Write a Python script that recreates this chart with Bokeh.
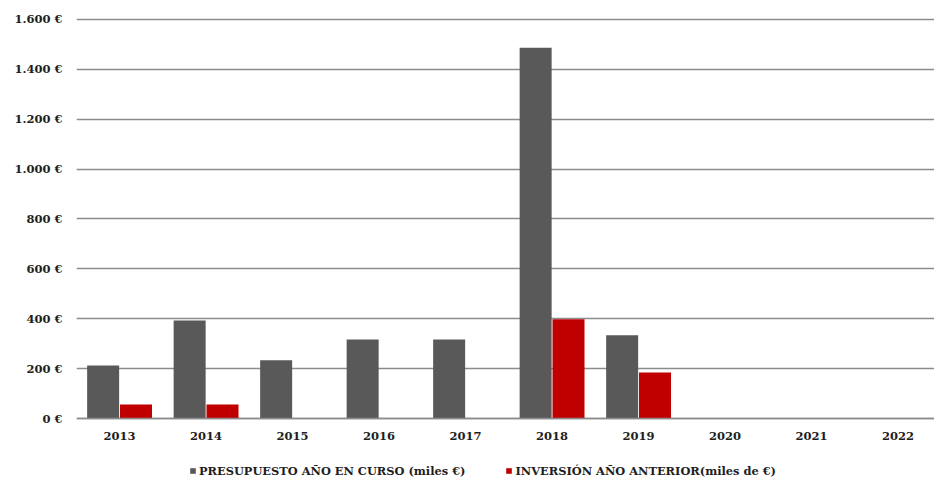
from bokeh.plotting import figure
from bokeh.models import ColumnDataSource, Legend, LegendItem, FixedTicker, Range1d, LinearAxis
from bokeh.transform import dodge
from bokeh.embed import file_html
from bokeh.resources import INLINE

nan = float("nan")

years = ["2013", "2014", "2015", "2016", "2017", "2018", "2019", "2020", "2021", "2022"]
presupuesto = [213, 393, 234, 317, 317, 1487, 334, nan, nan, nan]
inversion = [56, 56, nan, nan, nan, 398, 184, nan, nan, nan]
y_ticks = [0, 200, 400, 600, 800, 1000, 1200, 1400, 1600]
y_tick_labels = ["0 €", "200 €", "400 €", "600 €", "800 €", "1.000 €", "1.200 €", "1.400 €", "1.600 €"]
series_names = ["PRESUPUESTO AÑO EN CURSO (miles €)", "INVERSIÓN AÑO ANTERIOR(miles de €)"]

GRAY = "#595959"
RED = "#C00000"
GRID = "#8c8c8c"
TEXT = "#1e1e1e"
FONT = "DejaVu Serif"

idx = list(range(len(years)))
src = ColumnDataSource(dict(x=idx, pres=presupuesto, inv=inversion))

p = figure(width=934, height=484, output_backend="svg", toolbar_location=None,
           x_range=Range1d(-0.498, 9.421), y_range=Range1d(-264.6, 1676),
           x_axis_location=None,
           min_border_left=76, min_border_top=0, min_border_right=0, min_border_bottom=0)

r1 = p.vbar(x=dodge("x", -0.19, range=p.x_range), top="pres", width=0.37, source=src,
            fill_color=GRAY, line_color=None)
r2 = p.vbar(x=dodge("x", 0.19, range=p.x_range), top="inv", width=0.37, source=src,
            fill_color=RED, line_color=None)

p.outline_line_color = None
p.background_fill_color = "white"
p.border_fill_color = "white"

# grid
p.xgrid.grid_line_color = None
p.ygrid.ticker = FixedTicker(ticks=y_ticks)
p.ygrid.grid_line_color = GRID
p.ygrid.grid_line_width = 1.5

# y axis
p.yaxis.ticker = FixedTicker(ticks=y_ticks)
p.yaxis.major_label_overrides = {t: l for t, l in zip(y_ticks, y_tick_labels)}
p.yaxis.axis_line_color = None
p.yaxis.major_tick_line_color = None
p.yaxis.minor_tick_line_color = None
p.yaxis.major_tick_out = 0
p.yaxis.major_label_standoff = 14
p.yaxis.major_label_text_font = FONT
p.yaxis.major_label_text_font_style = "bold"
p.yaxis.major_label_text_font_size = "11.5px"
p.yaxis.major_label_text_color = TEXT

# x axis, drawn at value 0
xaxis = LinearAxis(fixed_location=0, ticker=FixedTicker(ticks=idx),
                   major_label_overrides={i: y for i, y in zip(idx, years)})
xaxis.axis_line_color = GRID
xaxis.axis_line_width = 1.5
xaxis.major_tick_line_color = None
xaxis.minor_tick_line_color = None
xaxis.major_tick_out = 0
xaxis.major_tick_in = 0
xaxis.major_label_standoff = 13
xaxis.major_label_text_font = FONT
xaxis.major_label_text_font_style = "bold"
xaxis.major_label_text_font_size = "11.5px"
xaxis.major_label_text_color = TEXT
p.add_layout(xaxis, "below")

legend = Legend(items=[LegendItem(label=series_names[0], renderers=[r1]),
                       LegendItem(label=series_names[1], renderers=[r2])],
                orientation="horizontal", location=(113, 6.5),
                margin=0, padding=3, spacing=40, label_standoff=3,
                glyph_width=7, glyph_height=7, label_height=14,
                label_text_font=FONT, label_text_font_style="bold",
                label_text_font_size="11.4px", label_text_color=TEXT,
                border_line_color=None, background_fill_alpha=0)
p.add_layout(legend)

open("out.html", "w").write(file_html(p, INLINE))
